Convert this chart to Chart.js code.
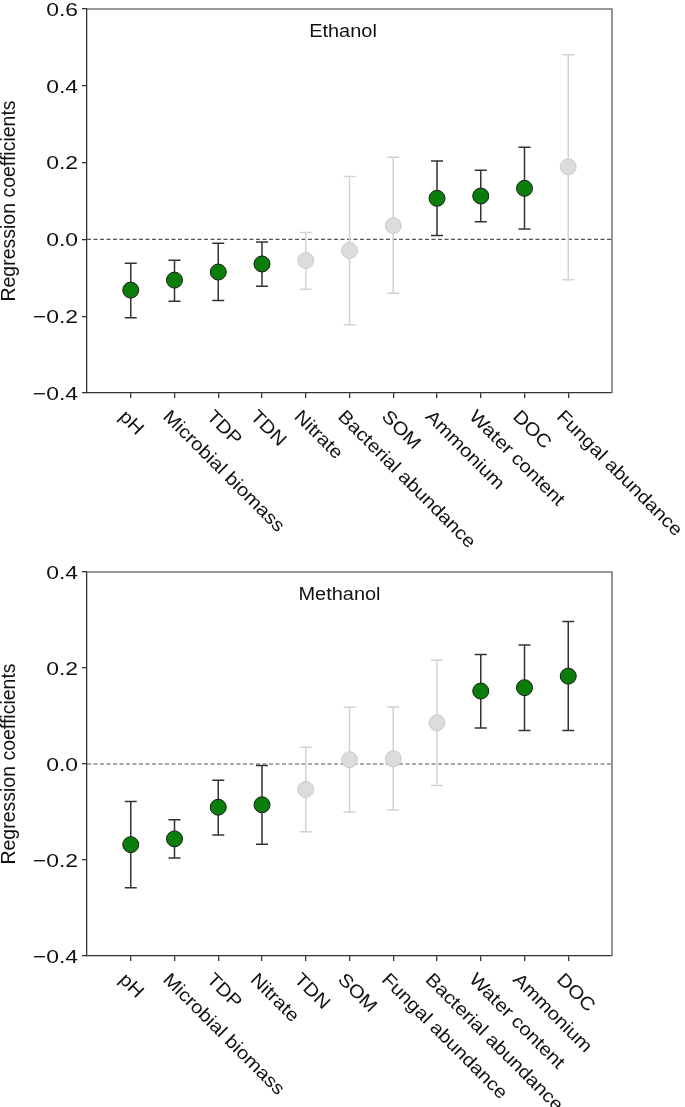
<!DOCTYPE html>
<html><head><meta charset="utf-8">
<script src="https://cdn.jsdelivr.net/npm/chart.js@4.4.1/dist/chart.umd.min.js"></script>
<style>
html,body{margin:0;padding:0;background:#fff;width:685px;height:1107px;overflow:hidden}
.w{position:absolute;left:0}
canvas{display:block}
</style></head><body>
<div class="w" style="top:0"><canvas id="c1" width="685" height="560"></canvas></div>
<div class="w" style="top:563px"><canvas id="c2" width="685" height="544"></canvas></div>
<script>
// ---------- Ethanol (top panel) ----------
const categoriesEthanol = ['pH','Microbial biomass','TDP','TDN','Nitrate','Bacterial abundance','SOM','Ammonium','Water content','DOC','Fungal abundance'];
const coefEthanol  = [-0.132,-0.106,-0.085,-0.064,-0.055,-0.029, 0.036, 0.107, 0.113, 0.133, 0.189];
const lowerEthanol = [-0.204,-0.161,-0.159,-0.122,-0.130,-0.222,-0.140, 0.010, 0.046, 0.027,-0.105];
const upperEthanol = [-0.062,-0.054,-0.010,-0.007, 0.018, 0.164, 0.214, 0.204, 0.180, 0.240, 0.481];
const signifEthanol = [1,1,1,1,0,0,0,1,1,1,0];
const yTicksEthanol = [-0.4,-0.2,0.0,0.2,0.4,0.6];

// ---------- Methanol (bottom panel) ----------
const categoriesMethanol = ['pH','Microbial biomass','TDP','Nitrate','TDN','SOM','Fungal abundance','Bacterial abundance','Water content','Ammonium','DOC'];
const coefMethanol  = [-0.168,-0.156,-0.090,-0.085,-0.053, 0.009, 0.011, 0.086, 0.152, 0.159, 0.183];
const lowerMethanol = [-0.258,-0.196,-0.148,-0.167,-0.141,-0.100,-0.096,-0.045, 0.075, 0.070, 0.070];
const upperMethanol = [-0.078,-0.116,-0.034,-0.003, 0.035, 0.118, 0.119, 0.216, 0.228, 0.248, 0.297];
const signifMethanol = [1,1,1,1,0,0,0,0,1,1,1];
const yTicksMethanol = [-0.4,-0.2,0.0,0.2,0.4];

const FONT = '"Liberation Sans", Arial, Helvetica, sans-serif';
const fmt = v => { const r = Math.round(v*10)/10; return (r < 0 ? '\u2212' : '') + Math.abs(r).toFixed(1); };

function makeDecor(cfg) {
  return {
    id: 'decor',
    beforeDatasetsDraw(chart) {
      const {ctx, chartArea: a, scales: {x, y}} = chart;
      ctx.save();
      const y0 = y.getPixelForValue(0);
      ctx.strokeStyle = '#555'; ctx.lineWidth = 1.2; ctx.setLineDash([4, 2.5]);
      ctx.beginPath(); ctx.moveTo(a.left, y0); ctx.lineTo(a.right, y0); ctx.stroke();
      ctx.setLineDash([]);
      cfg.lo.forEach((lo, i) => {
        const px = x.getPixelForValue(i + 1);
        const pl = y.getPixelForValue(lo), ph = y.getPixelForValue(cfg.hi[i]);
        ctx.strokeStyle = cfg.sig[i] ? '#333333' : '#d2d2d2';
        ctx.lineWidth = 1.5;
        ctx.beginPath();
        ctx.moveTo(px, pl); ctx.lineTo(px, ph);
        ctx.moveTo(px - 6, pl); ctx.lineTo(px + 6, pl);
        ctx.moveTo(px - 6, ph); ctx.lineTo(px + 6, ph);
        ctx.stroke();
      });
      ctx.restore();
    },
    afterDraw(chart) {
      const {ctx, chartArea: a, scales: {x, y}} = chart;
      ctx.save();
      // top & right frame
      ctx.strokeStyle = '#7a7a7a'; ctx.lineWidth = 1.6;
      ctx.beginPath(); ctx.moveTo(a.left, a.top); ctx.lineTo(a.right, a.top); ctx.lineTo(a.right, a.bottom); ctx.stroke();
      ctx.fillStyle = '#111';
      // y tick labels
      const ts = 18.8;
      ctx.font = ts + 'px ' + FONT;
      ctx.textAlign = 'right'; ctx.textBaseline = 'alphabetic';
      cfg.yTicks.forEach(v => {
        const py = y.getPixelForValue(v);
        ctx.save();
        ctx.translate(a.left - 9, py + 0.358 * ts);
        ctx.scale(1.22, 1);
        ctx.fillText(fmt(v), 0, 0);
        ctx.restore();
      });
      // x category labels, rotated 45 deg clockwise
      const xs = 18.4;
      ctx.font = xs + 'px ' + FONT;
      ctx.textAlign = 'left';
      cfg.cats.forEach((c, i) => {
        const px = x.getPixelForValue(i + 1);
        ctx.save();
        ctx.translate(px - 12.5, a.bottom + 24.5);
        ctx.rotate(Math.PI / 4);
        ctx.scale(1.11, 1);
        ctx.fillText(c, 0, 0);
        ctx.restore();
      });
      // panel title
      ctx.font = '17.5px ' + FONT;
      ctx.textAlign = 'center';
      ctx.save();
      ctx.translate(a.left + cfg.titleDx, a.top + 27.5);
      ctx.scale(1.14, 1);
      ctx.fillText(cfg.title, 0, 0);
      ctx.restore();
      ctx.restore();
    }
  };
}

function build(id, cats, coef, lo, hi, sig, yTicks, title, titleDx, xHeight) {
  const ymin = yTicks[0], ymax = yTicks[yTicks.length - 1];
  return new Chart(document.getElementById(id), {
    type: 'scatter',
    data: {
      datasets: [{
        data: coef.map((v, i) => ({x: i + 1, y: v})),
        backgroundColor: sig.map(s => s ? '#0b7d0b' : '#dcdcdc'),
        borderColor: sig.map(s => s ? '#1a1a1a' : '#cccccc'),
        borderWidth: 1,
        pointRadius: 8,
        pointHoverRadius: 8
      }]
    },
    options: {
      responsive: false,
      animation: false,
      devicePixelRatio: 1,
      layout: {padding: {left: 0, right: 73, top: 8, bottom: 0}},
      plugins: {legend: {display: false}, tooltip: {enabled: false}, title: {display: false}},
      scales: {
        x: {
          type: 'linear', min: 0, max: 12,
          afterBuildTicks: s => { s.ticks = cats.map((c, i) => ({value: i + 1})); },
          afterFit: s => { s.height = xHeight; },
          grid: {drawOnChartArea: false, drawTicks: true, tickLength: 5, color: '#333', lineWidth: 1.3},
          border: {display: true, color: '#333', width: 1.3},
          ticks: {display: false}
        },
        y: {
          min: ymin, max: ymax,
          afterBuildTicks: s => { s.ticks = yTicks.map(v => ({value: v})); },
          afterFit: s => { s.width = 87; },
          grid: {drawOnChartArea: false, drawTicks: true, tickLength: 5, color: '#333', lineWidth: 1.3},
          border: {display: true, color: '#333', width: 1.3},
          ticks: {display: false},
          title: {display: true, text: 'Regression coefficients', color: '#111',
                  font: {family: FONT, size: 19.5, lineHeight: 1}, padding: 0}
        }
      }
    },
    plugins: [makeDecor({cats, lo, hi, sig, yTicks, title, titleDx})]
  });
}

build('c1', categoriesEthanol, coefEthanol, lowerEthanol, upperEthanol, signifEthanol, yTicksEthanol, 'Ethanol', 256, 167);
build('c2', categoriesMethanol, coefMethanol, lowerMethanol, upperMethanol, signifMethanol, yTicksMethanol, 'Methanol', 252.5, 151);
</script>
</body></html>
